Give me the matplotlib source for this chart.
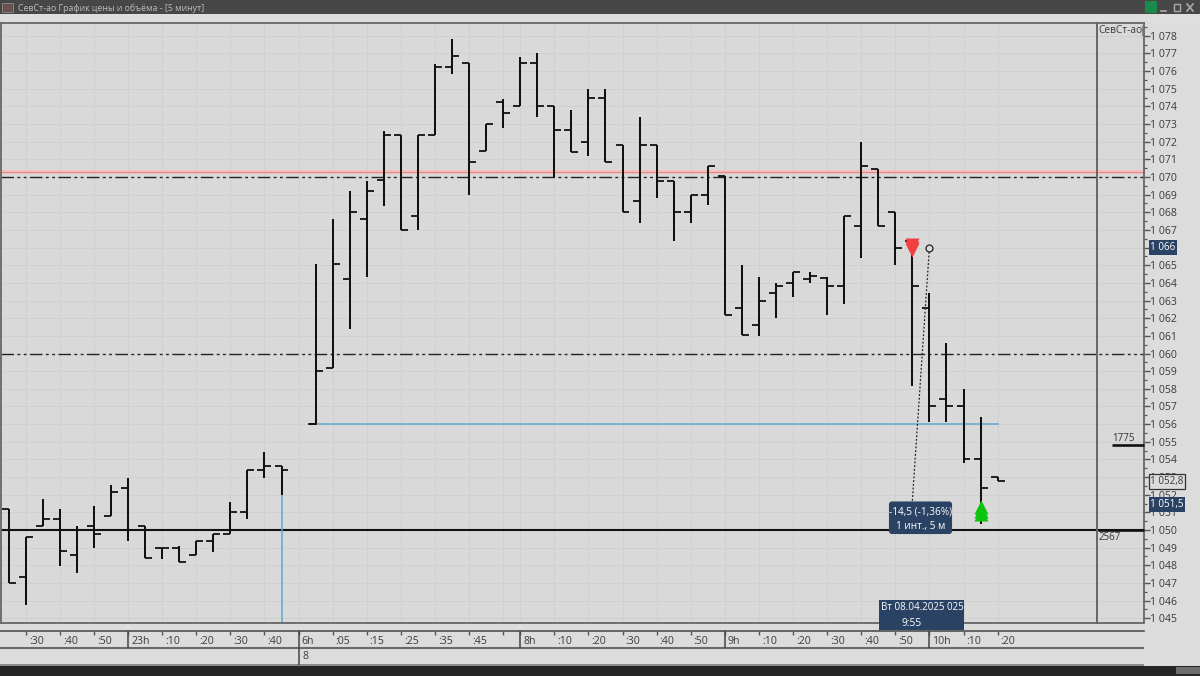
import matplotlib
matplotlib.use("Agg")
import matplotlib.pyplot as plt
from matplotlib.patches import Rectangle, FancyBboxPatch
from matplotlib.ticker import FixedLocator, FuncFormatter
import matplotlib.transforms as mt

plt.rcParams['font.family'] = ['Open Sans', 'DejaVu Sans']

slots = list(range(17)) + list(range(18, 59))
opens = [1051.2,1047.35,1050.2,1050.6,1048.6,1050.2,1050.8,1052.4,1050.2,1049.0,1049.0,1048.56,1049.4,1049.8,1051.0,1053.4,1053.6,
         1056.0,1059.2,1064.2,1067.6,1069.85,1072.4,1067.8,1072.4,1076.25,1076.45,1071.45,1074.25,1074.05,1076.45,1074.05,1072.66,1072.0,1074.45,1071.8,1068.65,1071.8,1069.8,1068.0,1069.0,1070.05,1062.6,1061.6,1063.4,1064.0,1064.2,1064.25,1063.8,1067.25,1070.45,1068.0,1066.4,1062.6,1057.45,1057.0,1054.0,1053.0]
highs = [1051.2,1049.6,1051.76,1051.17,1050.2,1051.36,1052.55,1052.96,1050.2,1049.0,1049.1,1049.4,1049.8,1051.6,1053.4,1054.4,1053.6,
         1065.07,1067.6,1069.2,1069.8,1072.6,1072.4,1072.4,1076.4,1077.8,1076.45,1073.0,1074.4,1076.8,1077.0,1074.05,1073.8,1075.0,1075.0,1071.8,1073.4,1071.8,1069.8,1069.0,1070.6,1070.05,1065.0,1064.35,1064.0,1064.6,1064.6,1064.35,1067.8,1072.0,1070.45,1068.0,1066.4,1063.4,1060.6,1058.0,1056.4,1053.0]
lows = [1047.0,1045.75,1050.2,1047.96,1047.55,1048.96,1050.8,1049.38,1048.4,1048.36,1048.17,1048.56,1048.77,1049.8,1050.6,1052.95,1052.0,
        1056.0,1059.2,1061.4,1064.35,1068.35,1067.0,1067.0,1072.4,1075.85,1069.0,1071.45,1072.8,1074.05,1073.4,1070.0,1071.4,1071.2,1070.85,1068.0,1067.4,1068.8,1066.4,1067.4,1068.4,1062.2,1061.05,1061.0,1062.0,1063.2,1064.0,1062.2,1062.8,1065.4,1067.2,1065.0,1058.15,1056.1,1056.1,1053.8,1050.34,1052.8]
closes = [1047.0,1049.6,1050.6,1048.8,None,1049.8,1052.17,None,1048.4,1049.0,1048.17,1049.4,1049.8,1051.0,1053.4,1053.6,1053.4,
          1059.0,1065.05,1068.0,1069.2,1072.4,1067.0,1072.4,1076.25,1076.85,1070.85,1073.0,1073.65,1076.45,1074.05,1072.66,1071.4,1074.45,1070.85,1068.0,1071.8,1069.8,1068.0,1069.0,1070.6,1062.2,1061.05,1063.0,1063.8,1064.6,1064.4,1063.8,1067.8,1070.65,1067.2,1066.0,1063.8,1057.0,1057.0,1054.0,1052.4,1052.8]

time_slots = [1,3,5,7,9,11,13,15,17,19,21,23,25,27,29,30,32,34,36,38,40,42,44,46,48,50,52,54,56,58]
time_labels = [':30',':40',':50','23h',':10',':20',':30',':40','6h',':05',':15',':25',':35',':45','','8h',':10',':20',':30',':40',':50','9h',':10',':20',':30',':40',':50','10h',':10',':20']
hour_labels = {'23h','6h','8h','9h','10h'}
price_ticks = list(range(1045, 1079))
volume_prices = [1054.8, 1050.0]
volumes = [1775, 2567]
sell_slot, sell_price = 53, 1066.0
buy_slot, buy_price = 57, 1051.1
measure_slots = [53, 54]
measure_prices = [1051.66, 1066.0]

W, H = 1200, 676
BG = '#d9d9d9'
GRID = '#d0d0d0'
fig = plt.figure(figsize=(W/100, H/100), dpi=100, facecolor='#dcdcdc')

# chrome in pixel coordinates
ch = fig.add_axes([0, 0, 1, 1], zorder=0)
ch.set_xlim(0, W); ch.set_ylim(H, 0); ch.axis('off')
ch.add_patch(Rectangle((0, 0), W, 14, fc='#474747', ec='none'))
ch.add_patch(Rectangle((0, 14), W, 8, fc='#dedede', ec='none'))
ch.add_patch(Rectangle((2, 3), 11, 9, fc='#6a5050', ec='#8a8a8a', lw=0.6))
ch.text(18, 8, 'СевСт-ао График цены и объёма - [5 минут]', color='#bdbdbd', fontsize=6.3, va='center')
ch.add_patch(Rectangle((1145, 1), 12, 12, fc='#1c8a4c', ec='none'))
ch.plot([1161, 1166], [10.5, 10.5], color='#aaaaaa', lw=1.2)
ch.add_patch(Rectangle((1174, 4), 6, 6.5, fc='none', ec='#aaaaaa', lw=1))
ch.plot([1187, 1193], [4, 11], color='#aaaaaa', lw=1.2)
ch.plot([1187, 1193], [11, 4], color='#aaaaaa', lw=1.2)
ch.add_patch(Rectangle((0, 666), W, 10, fc='#252525', ec='none'))
ch.add_patch(Rectangle((1176, 667), 24, 7, fc='#6e6e6e', ec='none'))
for yy, c, lw in [(631, '#555555', 1.2), (648, '#6a6a6a', 1.5), (664.5, '#7a7a7a', 1.2)]:
    ch.plot([0, 1144], [yy, yy], color=c, lw=lw, solid_capstyle='butt')

# main chart
L, R, T, B = 1, 1144, 22.5, 623
def x2s(px): return (px - 8.7) / 17.05
def y2p(py): return 1050 + (530 - py) / 17.65
ax = fig.add_axes([L/W, 1 - B/H, (R-L)/W, (B-T)/H], zorder=1, facecolor=BG)
ax.set_xlim(x2s(L), x2s(R))
ax.set_ylim(y2p(B), y2p(T))

for s in ['top', 'left', 'right', 'bottom']:
    ax.spines[s].set_color('#666666'); ax.spines[s].set_linewidth(1.3)
ax.spines['bottom'].set_bounds(x2s(L), x2s(R))

ax.yaxis.tick_right()
ax.yaxis.set_major_locator(FixedLocator(price_ticks))
ax.yaxis.set_minor_locator(FixedLocator([p + 0.5 for p in price_ticks]))
ax.yaxis.set_major_formatter(FuncFormatter(lambda v, _: f'1 {int(v) - 1000:03d}'))
ax.tick_params(axis='y', which='major', length=4, width=1, color='#555555', labelsize=7.6, labelcolor='#3a3a3a', pad=0.6)
ax.tick_params(axis='y', which='minor', length=2.2, width=0.9, color='#555555')

ax.set_xticks(time_slots)
ax.set_xticklabels(time_labels)
ax.spines['bottom'].set_position(('outward', 5.7))
ax.tick_params(axis='x', length=3, width=1, color='#555555', labelsize=7.6, labelcolor='#3a3a3a', pad=0.8)
off = mt.ScaledTranslation(3/100, 0, fig.dpi_scale_trans)
for lab in ax.get_xticklabels():
    lab.set_ha('left')
    lab.set_transform(lab.get_transform() + off)

ax.grid(True, which='major', color=GRID, lw=0.7, zorder=0)
ax.set_axisbelow(True)

# reference lines
ax.axhline(1070.3, color='#f2c4c4', lw=3.0, zorder=1)
ax.axhline(1070.3, color='#e58a8a', lw=0.9, zorder=1.1)
for p in (1070, 1060):
    ax.axhline(p, color='#222222', lw=1.0, ls=(0, (9, 2.5, 2, 2.5, 2, 2.5)), zorder=1.2)
ax.axhline(1050, color='#111111', lw=1.5, zorder=1.3)
ax.plot([18, 58], [1056, 1056], color='#5fa9cf', lw=1.1, zorder=1.4)
ax.plot([16, 16], [1052, y2p(B)], color='#5fa9cf', lw=1.1, zorder=1.4)

# OHLC bars
W_T = 0.41
ink = '#111111'
for s, o, h, l, c in zip(slots, opens, highs, lows, closes):
    ax.plot([s, s], [l, h], color=ink, lw=1.45, solid_capstyle='butt', zorder=3)
    ax.plot([s - W_T, s], [o, o], color=ink, lw=1.3, solid_capstyle='butt', zorder=3)
    if c is not None:
        ax.plot([s, s + W_T], [c, c], color=ink, lw=1.3, solid_capstyle='butt', zorder=3)
ax.plot([17.6, 18], [1056, 1056], color=ink, lw=1.3, zorder=3)

# signals and measuring tool
for d in (0.15, 0.0, -0.15):
    ax.plot(sell_slot, sell_price + d, marker='v', ms=10, color='#f23f3f', mec='none', zorder=4)
for d in (0.2, 0.0, -0.2):
    ax.plot(buy_slot, buy_price + d, marker='^', ms=10.5, color='#0bc40b', mec='none', zorder=4)
ax.plot(measure_slots, measure_prices, color='#222222', lw=0.9, ls=(0, (1.5, 1.5)), zorder=4)
ax.plot(measure_slots[1], measure_prices[1], marker='o', ms=5, mfc=BG, mec='#222222', mew=0.9, zorder=5)

# right panel and overlays in pixels
ov = fig.add_axes([0, 0, 1, 1], zorder=2)
ov.set_xlim(0, W); ov.set_ylim(H, 0); ov.axis('off'); ov.patch.set_alpha(0)
ov.plot([0, 1144], [623, 623], color='#666666', lw=1.3, solid_capstyle='butt')
ov.plot([1096.7, 1096.7], [22.5, 623], color='#666666', lw=1.4)
ov.text(1098, 30.5, 'СевСт-ао', fontsize=7.3, color='#3a3a3a', va='center')
ov.plot([1141.5, 1141.5], [26, 35], color='#888888', lw=0.8)

def price_y(p): return 530 - (p - 1050) * 17.65
for p, v in zip(volume_prices, volumes):
    y = price_y(p)
    ov.plot([1144 - v * 46 / 2567, 1144], [y, y], color='#111111', lw=1.9, solid_capstyle='butt')
ov.text(1112, 438.5, '1775', fontsize=7, color='#333333', va='center')
ov.text(1098.5, 538, '2567', fontsize=7, color='#333333', va='center')

NAVY = '#2a4263'
def tag(x0, y0, x1, y1, txt, face=NAVY, tc='white', ec='none'):
    ov.add_patch(Rectangle((x0, y0), x1-x0, y1-y0, fc=face, ec=ec, lw=0.9, zorder=6))
    ov.text(x0 + 1.5, (y0+y1)/2, txt, fontsize=7.1, color=tc, va='center', zorder=7)
tag(1149, 239.5, 1176.5, 254.5, '1 066')
tag(1149, 473.5, 1185, 489, '1 052,8', face='#dcdcdc', tc='#3a3a3a', ec='#333333')
tag(1149, 496.5, 1185, 511.5, '1 051,5')

ov.add_patch(FancyBboxPatch((890, 502.5), 61, 30.5, boxstyle='round,pad=0,rounding_size=2', fc=NAVY, ec=NAVY, lw=1.5, zorder=6))
ov.text(920.5, 511.5, '-14,5 (-1,36%)', fontsize=7.2, color='white', ha='center', va='center', zorder=7)
ov.text(920.5, 526.5, '1 инт., 5 м', fontsize=7.2, color='white', ha='center', va='center', zorder=7)

ov.add_patch(Rectangle((879, 600), 85, 30, fc=NAVY, ec='none', zorder=6))
ov.text(881, 608, 'Вт 08.04.2025 025', fontsize=7.0, color='white', va='center', zorder=7)
ov.text(912, 623, '9:55', fontsize=7.4, color='white', ha='center', va='center', zorder=7)

# taller hour ticks and date row
for s, lab in zip(time_slots, time_labels):
    if lab in hour_labels:
        x = 8.7 + s * 17.05
        y1 = 664.5 if lab == '6h' else 648
        ov.plot([x, x], [631, y1], color='#444444', lw=1.1, solid_capstyle='butt')
ov.text(302.5, 656.5, '8', fontsize=7.6, color='#3a3a3a', va='center')

fig.savefig('out.png', dpi=100, facecolor=fig.get_facecolor())
